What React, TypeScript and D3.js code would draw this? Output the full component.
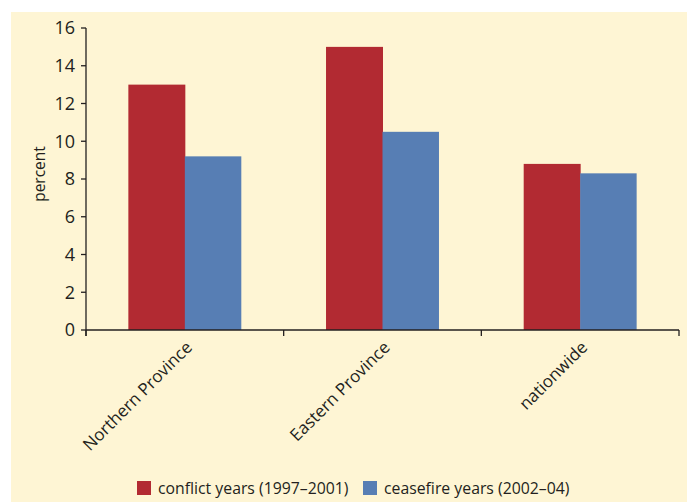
import React, { useEffect, useRef } from "react";
import * as d3 from "d3";

const categories = ["Northern Province", "Eastern Province", "nationwide"];
const seriesNames = ["conflict years (1997\u20132001)", "ceasefire years (2002\u201304)"];
const conflictValues = [13.0, 15.0, 8.8];
const ceasefireValues = [9.2, 10.5, 8.3];
const yTicks = [0, 2, 4, 6, 8, 10, 12, 14, 16];
const colors = ["#B22A32", "#577EB4"];

const W = 687;
const H = 502;
const FONT = "'Open Sans', 'Noto Sans', sans-serif";
const INK = "#231F20";

export default function App() {
  const svgRef = useRef<SVGSVGElement>(null);

  useEffect(() => {
    if (!svgRef.current) return;
    const svg = d3.select(svgRef.current);
    svg.selectAll("*").remove();

    // cream panel
    svg
      .append("rect")
      .attr("x", 11)
      .attr("y", 12)
      .attr("width", W - 11)
      .attr("height", H - 12)
      .attr("fill", "#FEF5D4");

    const left = 86;
    const right = 679;
    const top = 28;
    const bottom = 330;

    const x = d3.scaleBand<string>().domain(categories).range([left, right]);
    const inner = d3
      .scaleBand<number>()
      .domain([0, 1])
      .range([0, x.bandwidth()])
      .paddingOuter(0.75)
      .paddingInner(0);
    const y = d3.scaleLinear().domain([0, 16]).range([bottom, top]);

    const g = svg.append("g");

    const series = [conflictValues, ceasefireValues];
    series.forEach((vals, si) => {
      g.selectAll(`.bar${si}`)
        .data(vals)
        .enter()
        .append("rect")
        .attr("x", (_, i) => (x(categories[i]) as number) + (inner(si) as number))
        .attr("y", (d) => y(d))
        .attr("width", inner.bandwidth() + (si === 0 ? 0.5 : 0))
        .attr("height", (d) => bottom - y(d))
        .attr("fill", colors[si]);
    });

    // y axis
    g.append("line")
      .attr("x1", left)
      .attr("x2", left)
      .attr("y1", top)
      .attr("y2", bottom + 6)
      .attr("stroke", INK)
      .attr("stroke-width", 1.3);
    yTicks.forEach((t) => {
      g.append("line")
        .attr("x1", left - 5)
        .attr("x2", left)
        .attr("y1", y(t))
        .attr("y2", y(t))
        .attr("stroke", INK)
        .attr("stroke-width", 1.3);
      g.append("text")
        .attr("x", left - 11)
        .attr("y", y(t))
        .attr("dy", "0.36em")
        .attr("text-anchor", "end")
        .attr("font-family", FONT)
        .attr("font-size", 18)
        .attr("fill", INK)
        .text(t);
    });

    // x axis
    g.append("line")
      .attr("x1", left)
      .attr("x2", right)
      .attr("y1", bottom)
      .attr("y2", bottom)
      .attr("stroke", INK)
      .attr("stroke-width", 1.3);
    [...categories.map((c) => x(c) as number), right].forEach((px) => {
      g.append("line")
        .attr("x1", px)
        .attr("x2", px)
        .attr("y1", bottom)
        .attr("y2", bottom + 6)
        .attr("stroke", INK)
        .attr("stroke-width", 1.3);
    });
    categories.forEach((c) => {
      const cx = (x(c) as number) + x.bandwidth() / 2;
      const cy = bottom + 10;
      g.append("text")
        .attr("transform", `translate(${cx},${cy}) rotate(-45)`)
        .attr("text-anchor", "end")
        .attr("dy", "0.7em")
        .attr("font-family", FONT)
        .attr("font-size", 17)
        .attr("fill", INK)
        .text(c);
    });

    // y label
    g.append("text")
      .attr("transform", `translate(45,174) rotate(-90)`)
      .attr("text-anchor", "middle")
      .attr("font-family", FONT)
      .attr("font-size", 15.5)
      .attr("fill", INK)
      .text("percent");

    // legend
    const legendX = [137, 363];
    seriesNames.forEach((name, i) => {
      g.append("rect")
        .attr("x", legendX[i])
        .attr("y", 481)
        .attr("width", 14)
        .attr("height", 14)
        .attr("fill", colors[i]);
      g.append("text")
        .attr("x", legendX[i] + 21)
        .attr("y", 488)
        .attr("dy", "0.36em")
        .attr("font-family", FONT)
        .attr("font-size", 15.8)
        .attr("fill", INK)
        .text(name);
    });
  }, []);

  return (
    <div style={{ position: "fixed", left: 0, top: 0 }}>
      <svg ref={svgRef} width={W} height={H} style={{ display: "block" }} />
    </div>
  );
}
